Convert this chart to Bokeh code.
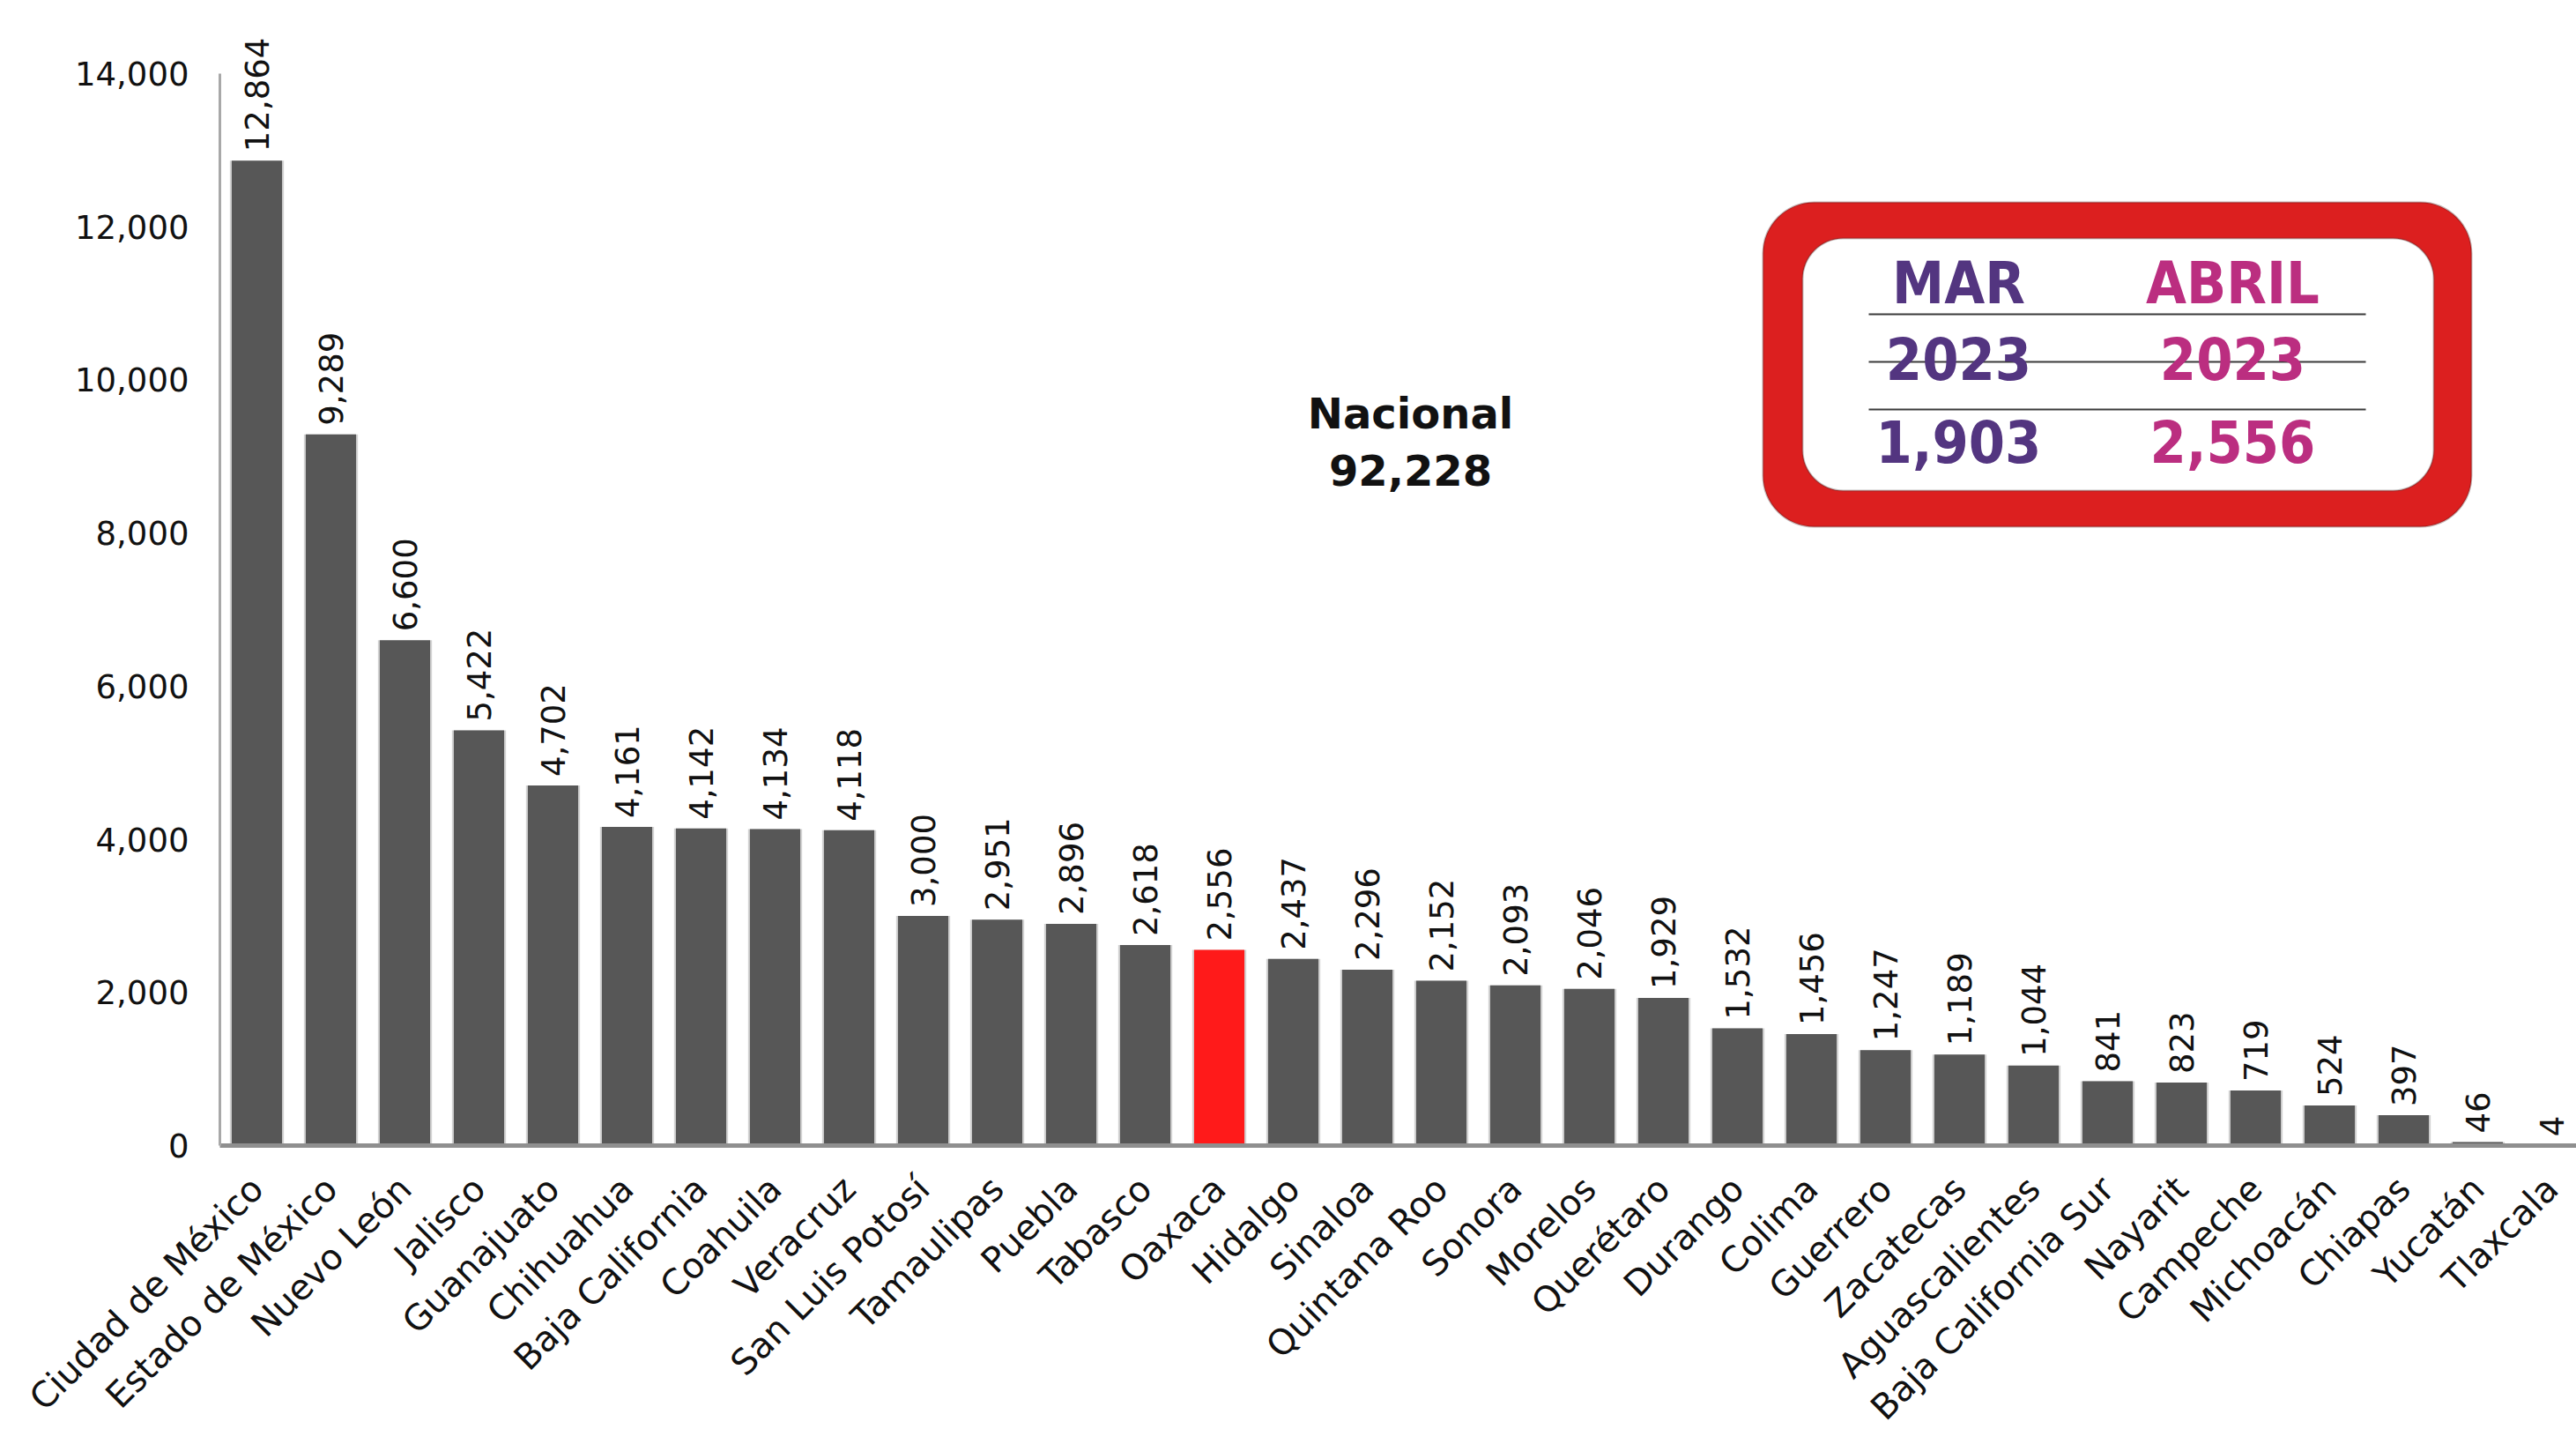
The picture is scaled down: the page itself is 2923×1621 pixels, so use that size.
import math
from bokeh.plotting import figure
from bokeh.models import (Range1d, FixedTicker, NumeralTickFormatter, Label,
                          BoxAnnotation, ColumnDataSource)
from bokeh.core.properties import value
from bokeh.embed import file_html
from bokeh.resources import INLINE

# ---------------- data ----------------
states = ["Ciudad de México", "Estado de México", "Nuevo León", "Jalisco",
          "Guanajuato", "Chihuahua", "Baja California", "Coahuila", "Veracruz",
          "San Luis Potosí", "Tamaulipas", "Puebla", "Tabasco", "Oaxaca",
          "Hidalgo", "Sinaloa", "Quintana Roo", "Sonora", "Morelos", "Querétaro",
          "Durango", "Colima", "Guerrero", "Zacatecas", "Aguascalientes",
          "Baja California Sur", "Nayarit", "Campeche", "Michoacán", "Chiapas",
          "Yucatán", "Tlaxcala"]
values = [12864, 9289, 6600, 5422, 4702, 4161, 4142, 4134, 4118, 3000, 2951,
          2896, 2618, 2556, 2437, 2296, 2152, 2093, 2046, 1929, 1532, 1456,
          1247, 1189, 1044, 841, 823, 719, 524, 397, 46, 4]
highlight = "Oaxaca"
y_ticks = [0, 2000, 4000, 6000, 8000, 10000, 12000, 14000]
y_max = 14000
national_title = "Nacional"
national_total = 92228
box_headers = ["MAR", "ABRIL"]
box_years = ["2023", "2023"]
box_values = [1903, 2556]

# ---------------- styles / layout ----------------
BAR = "#575757"
RED = "#ff1a1a"
PURPLE = "#533580"
MAGENTA = "#bb2e80"
FONT = "DejaVu Sans"
BOXFONT = "DejaVu Sans Condensed"

W = 2923
LEFT = 249          # left border (y-axis area)
AXIS_TOP_PX = 83    # pixel row of the 14,000 tick
ZERO_PX = 1299      # pixel row of the 0 baseline
FRAME_TOP = 5       # frame extends above 14,000 so value labels fit
STEP = 84.0         # px per category
frame_w = W - LEFT
frame_h = ZERO_PX - FRAME_TOP
px_per_unit = (ZERO_PX - AXIS_TOP_PX) / y_max
y_end = frame_h / px_per_unit

p = figure(frame_width=frame_w, frame_height=frame_h,
           output_backend="svg", toolbar_location=None,
           x_range=Range1d(0, frame_w / STEP), y_range=Range1d(0, y_end),
           min_border_left=LEFT, min_border_right=0, min_border_top=FRAME_TOP,
           min_border_bottom=10)
p.outline_line_color = None
p.grid.visible = False
p.background_fill_color = "white"
p.border_fill_color = "white"

xs = [i + 0.5 for i in range(len(states))]
colors = [RED if s == highlight else BAR for s in states]
src = ColumnDataSource(dict(x=xs, top=values, color=colors,
                            lbl=[f"{v:,}" for v in values]))

# soft shadow behind bars
p.vbar(x="x", top="top", bottom=0, width=0.73, source=src,
       fill_color="#d2d2d2", line_color=None)
p.vbar(x="x", top="top", bottom=0, width=0.68, source=src,
       fill_color="color", line_color=None)

# value labels
p.text(x="x", y="top", text="lbl", source=src, angle=math.pi / 2,
       text_align="left", text_baseline="middle", y_offset=-10,
       text_font=value(FONT), text_font_size="37px", text_color="#111111")

# axes
xa = p.xaxis[0]
xa.ticker = FixedTicker(ticks=xs)
xa.major_label_overrides = {x: s for x, s in zip(xs, states)}
xa.major_label_orientation = math.pi / 4
xa.axis_line_color = "#8f8f8f"
xa.axis_line_width = 5
xa.major_tick_line_color = None
xa.minor_tick_line_color = None
xa.major_tick_out = 0
xa.major_tick_in = 0
xa.major_label_standoff = 42
xa.major_label_text_font = FONT
xa.major_label_text_font_size = "40px"
xa.major_label_text_color = "#111111"

ya = p.yaxis[0]
ya.bounds = (0, y_max)
ya.ticker = FixedTicker(ticks=y_ticks)
ya.formatter = NumeralTickFormatter(format="0,0")
ya.axis_line_color = "#a8a8a8"
ya.axis_line_width = 3
ya.major_tick_line_color = None
ya.minor_tick_line_color = None
ya.major_tick_out = 0
ya.major_tick_in = 0
ya.major_label_standoff = 35
ya.major_label_text_font = FONT
ya.major_label_text_font_size = "37px"
ya.major_label_text_color = "#111111"

# helpers turning layout pixels into data positions
def px_x(px):
    return (px - LEFT) / STEP

def px_y(py):
    return (ZERO_PX - py) / px_per_unit

# national total
p.add_layout(Label(x=px_x(1600), y=px_y(468), text=national_title,
                   text_align="center", text_baseline="middle",
                   text_font=FONT, text_font_style="bold",
                   text_font_size="48px", text_color="#111111"))
p.add_layout(Label(x=px_x(1600), y=px_y(533), text=f"{national_total:,}",
                   text_align="center", text_baseline="middle",
                   text_font=FONT, text_font_style="bold",
                   text_font_size="48px", text_color="#111111"))

# red rounded box
p.add_layout(BoxAnnotation(left=px_x(2000), right=px_x(2804),
                           top=px_y(229), bottom=px_y(597),
                           fill_color="#dc1f1f", fill_alpha=1,
                           line_color="#3a1010", line_width=2,
                           border_radius=58, level="underlay"))
p.add_layout(BoxAnnotation(left=px_x(2045), right=px_x(2761),
                           top=px_y(270), bottom=px_y(556),
                           fill_color="white", fill_alpha=1,
                           line_color="#333333", line_width=2,
                           border_radius=46, level="underlay"))

# table lines
for ly in [356, 410, 464]:
    p.segment(x0=[px_x(2120)], x1=[px_x(2684)], y0=[px_y(ly)], y1=[px_y(ly)],
              line_color="#3a3a3a", line_width=2)

col_x = [2222, 2533]
col_c = [PURPLE, MAGENTA]
for cx, cc, hd, yr, vv in zip(col_x, col_c, box_headers, box_years, box_values):
    for ry, txt in [(321, hd), (406, yr), (500, f"{vv:,}")]:
        p.add_layout(Label(x=px_x(cx), y=px_y(ry), text=txt,
                           text_align="center", text_baseline="middle",
                           text_font=BOXFONT, text_font_style="bold",
                           text_font_size="66px", text_color=cc))

open("out.html", "w").write(file_html(p, INLINE))
